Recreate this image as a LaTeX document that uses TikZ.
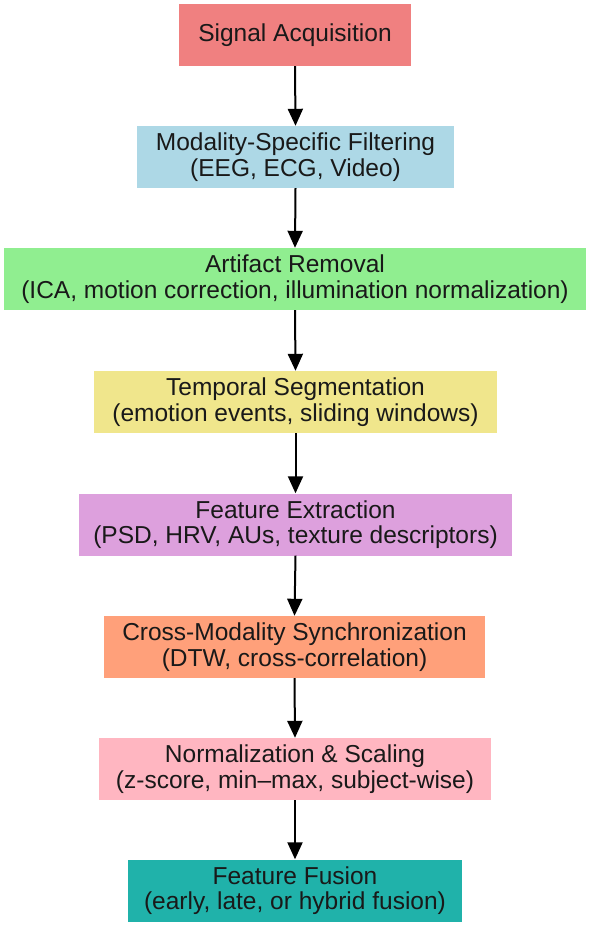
\documentclass[tikz,border=0pt]{standalone}
\usepackage{fontspec}
\setmainfont{Liberation Sans}
\usetikzlibrary{arrows.meta}
\definecolor{cA}{HTML}{F08080}
\definecolor{cB}{HTML}{ADD8E6}
\definecolor{cC}{HTML}{90EE90}
\definecolor{cD}{HTML}{F0E68C}
\definecolor{cE}{HTML}{DDA0DD}
\definecolor{cF}{HTML}{FFA07A}
\definecolor{cG}{HTML}{FFB6C1}
\definecolor{cH}{HTML}{20B2AA}
\tikzset{
  stepbox/.style={rectangle, inner sep=0pt, minimum height=62pt, align=center,
    font=\fontsize{24.5}{25.5}\selectfont, text=black!90},
  flow/.style={-{Triangle[length=17pt,width=15pt]}, line width=2pt, black}
}
\begin{document}
\begin{tikzpicture}[x=1pt,y=-1pt]
\useasboundingbox (0,0) rectangle (590,926);
\node[stepbox, fill=cA, minimum width=232pt] (n1) at (295,35) {Signal Acquisition};
\node[stepbox, fill=cB, minimum width=317pt] (n2) at (295.5,157) {Modality-Specific Filtering\\(EEG, ECG, Video)};
\node[stepbox, fill=cC, minimum width=582pt] (n3) at (295,279) {Artifact Removal\\(ICA, motion correction, illumination normalization)};
\node[stepbox, fill=cD, minimum width=403pt] (n4) at (295.5,402) {Temporal Segmentation\\(emotion events, sliding windows)};
\node[stepbox, fill=cE, minimum width=433pt] (n5) at (295.5,524.5) {Feature Extraction\\(PSD, HRV, AUs, texture descriptors)};
\node[stepbox, fill=cF, minimum width=381pt] (n6) at (294.5,647) {Cross-Modality Synchronization\\(DTW, cross-correlation)};
\node[stepbox, fill=cG, minimum width=392pt] (n7) at (295,769) {Normalization \& Scaling\\(z-score, min–max, subject-wise)};
\node[stepbox, fill=cH, minimum width=334pt] (n8) at (295,890.5) {Feature Fusion\\(early, late, or hybrid fusion)};
\foreach \a/\b in {n1/n2,n2/n3,n3/n4,n4/n5,n5/n6,n6/n7,n7/n8}
  \draw[flow] (\a.south) -- (\b.north);
\end{tikzpicture}
\end{document}
